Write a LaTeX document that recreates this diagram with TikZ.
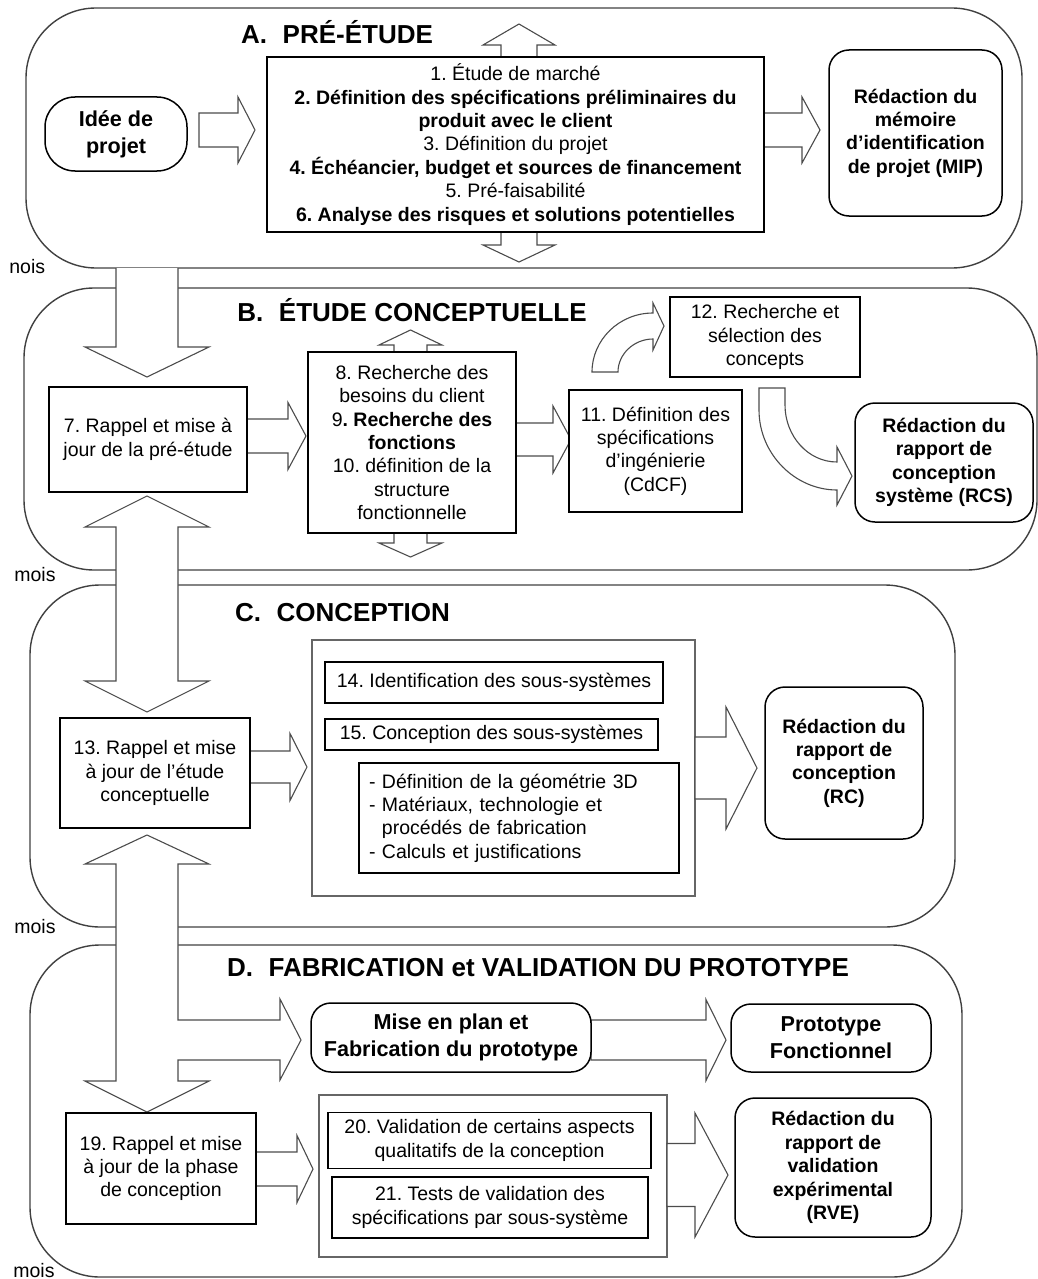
\documentclass[tikz,border=0pt]{standalone}
\usepackage{fontspec}
\setmainfont{Liberation Sans}
\usetikzlibrary{calc}
\frenchspacing
\newcommand\bodyfont{\fontsize{9.75pt}{11.7pt}\selectfont}
\newcommand\bigfont{\fontsize{10.8pt}{13.5pt}\selectfont\bfseries}
\newcommand\titlefont{\fontsize{13pt}{15pt}\selectfont\bfseries}
\def\fatright(#1:#2:#3:#4:#5:#6){\draw[blockarrow] (#1,#4-#5) -- (#2,#4-#5) -- (#2,#4-#6) -- (#3,#4) -- (#2,#4+#6) -- (#2,#4+#5) -- (#1,#4+#5) -- cycle;}
\def\fatvert(#1:#2:#3:#4:#5:#6){\draw[blockarrow] (#1-#5,#2) -- (#1-#5,#3) -- (#1-#6,#3) -- (#1,#4) -- (#1+#6,#3) -- (#1+#5,#3) -- (#1+#5,#2) -- cycle;}
\tikzset{
	phase/.style={draw=black!75, line width=0.7pt, rounded corners=35pt},
	holder/.style={draw=black!60, line width=0.6pt},
	blockarrow/.style={draw=black!70, line width=0.55pt, fill=white},
	task/.style={draw, line width=0.75pt, fill=white, align=center, inner sep=0pt, font=\bodyfont},
	report/.style={task, rounded corners=10pt, font={\bodyfont\bfseries}},
	phasetitle/.style={font=\titlefont, inner sep=0pt},
	monthlabel/.style={font=\bodyfont, inner sep=0pt, anchor=west}
}

\begin{document}
\begin{tikzpicture}[x=0.5pt, y=-0.5pt]
			%%%%% START %%%%%
			\useasboundingbox (0,0) rectangle (1038,1279);
			
			\draw[phase] (26,8) rectangle (1022,268);
			\draw[phase] (24,288) rectangle (1037,570);
			\draw[phase] (30,585) rectangle (955,927);
			\draw[phase] (30,945) rectangle (962,1277);
			
			\node[monthlabel] (moisA) at (9,267) {nois};
			\node[monthlabel] (moisB) at (14,575) {mois};
			\node[monthlabel] (moisC) at (14,927) {mois};
			\node[monthlabel] (moisD) at (13,1271) {mois};
			
			\draw[holder] (312,640) rectangle (695,896);
			\draw[holder] (319,1095) rectangle (667,1257);
			
			% A
			\node[phasetitle] (titleA) at (337,32) {A.\hspace{0.6em}PRÉ-ÉTUDE};
			\fatright(199:238:255:130:17:33);
			\fatright(764:802:820:130:17:33);
			\fatvert(519:57:45:24:18:36);
			\fatvert(519:232:245:262:18:36);
			\node[task, rounded corners=15pt, font=\bigfont, minimum width=71pt, minimum height=37pt] (idee) at (116,134) {Idée de\\projet};
			\node[task, minimum width=248.5pt, minimum height=87.5pt] (etapesA) at (515.5,144.5) {1. Étude de marché\\ \textbf{2. Définition des spécifications préliminaires du}\\ \textbf{produit avec le client}\\ 3. Définition du projet\\ \textbf{4. Échéancier, budget et sources de financement}\\ 5. Pré-faisabilité\\ \textbf{6. Analyse des risques et solutions potentielles}};
			\node[report, minimum width=86.5pt, minimum height=83pt] (mip) at (915.5,133) {Rédaction du\\mémoire\\d’identification\\de projet (MIP)};
			
			% B
			\node[phasetitle] (titleB) at (412,310) {B.\hspace{0.6em}ÉTUDE CONCEPTUELLE};
			\draw[blockarrow] (116,268) -- (116,347) -- (85,347) -- (147,377) -- (209,347) -- (178,347) -- (178,268);
			\fatright(247:288:306:436:17:33.5);
			\fatright(516:553:571:439.5:16.5:33.5);
			\fatvert(410.5:352:345:330:16.5:31.5);
			\fatvert(410.5:533:543:557:16.5:31.5);
			\draw[blockarrow] (592,372) .. controls (592,340) and (619,313) .. (653,313) -- (653,303) -- (664,326) -- (653,350) -- (653,339) .. controls (634,339) and (618,354) .. (618,372) -- cycle;
			\draw[blockarrow] (759,388) -- (759,410) .. controls (759,454) and (795,490) .. (837,490) -- (837,505) -- (852,476) -- (837,447) -- (837,462) .. controls (808,462) and (785,436) .. (785,405) -- (785,388) -- cycle;
			\node[task, minimum width=99pt, minimum height=52.5pt] (rappelB) at (148,439.5) {7. Rappel et mise à\\jour de la pré-étude};
			\node[task, minimum width=104pt, minimum height=90.5pt] (besoins) at (412,442.5) {8. Recherche des\\besoins du client\\9\textbf{. Recherche des}\\ \textbf{fonctions}\\10. définition de la\\structure\\fonctionnelle};
			\node[task, minimum width=86.5pt, minimum height=61pt] (specs) at (655.5,451) {11. Définition des\\spécifications\\d’ingénierie\\(CdCF)};
			\node[task, minimum width=95pt, minimum height=40pt] (concepts) at (765,337) {12. Recherche et\\sélection des\\concepts};
			\node[report, minimum width=89pt, minimum height=59.5pt] (rcs) at (944,462.5) {Rédaction du\\rapport de\\conception\\système (RCS)};
			
			% C
			\node[phasetitle] (titleC) at (342.5,613) {C.\hspace{0.6em}CONCEPTION};
			\draw[blockarrow] (147,496) -- (209,527) -- (178,527) -- (178,681) -- (209,681) -- (147,712) -- (85,681) -- (116,681) -- (116,527) -- (85,527) -- cycle;
			\fatright(250:290:307:767:16:33.5);
			\fatright(695:726:757:768:31:61);
			\node[task, minimum width=95pt, minimum height=55pt] (rappelC) at (155,773) {13. Rappel et mise\\à jour de l’étude\\conceptuelle};
			\node[task, minimum width=169pt, minimum height=20.5pt] (ident) at (494,682.5) {14. Identification des sous-systèmes};
			\node[task, minimum width=166.5pt, minimum height=15.5pt] (soussys) at (491.5,734.5) {15. Conception des sous-systèmes};
			\node[task, align=left, text width=150pt, minimum width=160pt, minimum height=55pt] (details) at (519,818) {- Définition de la géométrie 3D\\- Matériaux, technologie et\\\hphantom{- }procédés de fabrication\\- Calculs et justifications};
			\node[report, minimum width=79pt, minimum height=76pt] (rc) at (844,763) {Rédaction du\\rapport de\\conception\\(RC)};
			
			% D
			\node[phasetitle] (titleD) at (538,968) {D.\hspace{0.6em}FABRICATION et VALIDATION DU PROTOTYPE};
			\draw[blockarrow] (147,835) -- (209,864) -- (178,864) -- (178,1020) -- (280,1020) -- (280,999) -- (301,1040) -- (280,1080) -- (280,1060) -- (178,1060) -- (178,1081) -- (209,1081) -- (147,1112) -- (85,1081) -- (116,1081) -- (116,864) -- (85,864) -- cycle;
			\fatright(591:706:726:1040:20:40.5);
			\fatright(256:297:313:1169:17:33.5);
			\fatright(667:695:728:1175:31.5:62);
			\node[task, rounded corners=10pt, font=\bigfont, minimum width=140pt, minimum height=34.5pt] (miseplan) at (451,1037.5) {Mise en plan et\\Fabrication du prototype};
			\node[task, rounded corners=10pt, font=\bigfont, minimum width=100pt, minimum height=34pt] (proto) at (831,1038) {Prototype\\Fonctionnel};
			\node[task, minimum width=95pt, minimum height=55.5pt] (rappelD) at (161,1168.5) {19. Rappel et mise\\à jour de la phase\\de conception};
			\node[task, minimum width=161.5pt, minimum height=28pt] (qualit) at (489.5,1140.5) {20. Validation de certains aspects\\qualitatifs de la conception};
			\node[task, minimum width=158pt, minimum height=30.5pt] (tests) at (490,1207.5) {21. Tests de validation des\\spécifications par sous-système};
			\node[report, minimum width=98pt, minimum height=69.5pt] (rve) at (833,1167.5) {Rédaction du\\rapport de\\validation\\expérimental\\(RVE)};
			
			%%%%% END %%%%%
\end{tikzpicture}
\end{document}
